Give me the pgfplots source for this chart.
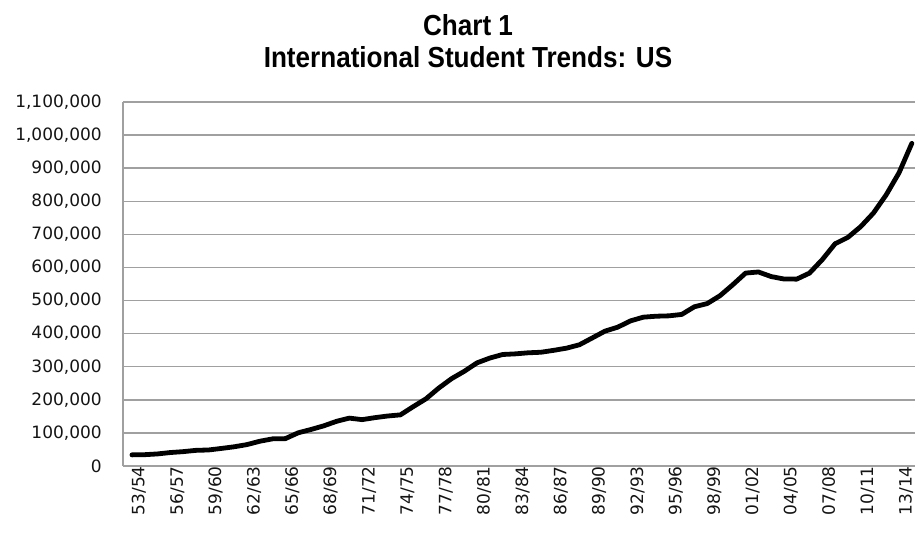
\documentclass[border=0pt]{standalone}
\usepackage{fontspec}
\setmainfont{DejaVu Sans}
\newfontfamily\titlefont{Liberation Sans}[FakeStretch=0.9]
\usepackage{pgfplots}
\pgfplotsset{compat=1.18}
\definecolor{gridgray}{HTML}{A0A0A0}
\definecolor{labelcol}{HTML}{141414}
\begin{document}
\begin{tikzpicture}
\path[use as bounding box] (0,0) rectangle (915pt,536pt);
\node[anchor=base, font={\titlefont\bfseries\fontsize{29pt}{34pt}\selectfont}] at (468pt,500pt) {Chart 1};
\node[anchor=base, font={\titlefont\bfseries\fontsize{29pt}{34pt}\selectfont}] at (468pt,468pt) {International Student Trends: US};
\begin{axis}[
  at={(123pt,70pt)}, anchor=south west,
  scale only axis, width=792pt, height=364pt,
  xmin=-0.7, xmax=61.25, ymin=0, ymax=1100000,
  axis lines=left,
  axis line style={-, gridgray, line width=1.5pt},
  ymajorgrids, major grid style={gridgray, line width=1.5pt},
  major tick length=0pt,
  ytick={0,100000,...,1100000},
  scaled y ticks=false,
  /pgf/number format/fixed,
  /pgf/number format/precision=0,
  /pgf/number format/1000 sep={,},
  /pgf/number format/assume math mode=true,
  xtick={0,3,...,60},
  xticklabels={53/54,56/57,59/60,62/63,65/66,68/69,71/72,74/75,77/78,80/81,83/84,86/87,89/90,92/93,95/96,98/99,01/02,04/05,07/08,10/11,13/14},
  ticklabel style={font=\fontsize{17pt}{20pt}\selectfont, text=labelcol, inner sep=0pt},
  yticklabel style={anchor=east, xshift=-21pt},
  xticklabel style={rotate=90, anchor=east, yshift=-7pt},
]
\addplot[black, line width=4.8pt, line join=round, line cap=round] coordinates {
(0,33675) (1,34232) (2,36494) (3,40666) (4,43391) (5,47245) (6,48486) (7,53107)
(8,58086) (9,64705) (10,74814) (11,82045) (12,82709) (13,100262) (14,110315) (15,121362)
(16,134959) (17,144708) (18,140126) (19,146097) (20,151066) (21,154580) (22,179344) (23,203068)
(24,235509) (25,263938) (26,286343) (27,311882) (28,326299) (29,336985) (30,338894) (31,342113)
(32,343777) (33,349609) (34,356187) (35,366354) (36,386851) (37,407529) (38,419585) (39,438618)
(40,449749) (41,452653) (42,453787) (43,457984) (44,481280) (45,490933) (46,514723) (47,547867)
(48,582996) (49,586323) (50,572509) (51,565039) (52,564766) (53,582984) (54,623805) (55,671616)
(56,690923) (57,723277) (58,764495) (59,819644) (60,886052) (61,974926)
};
\end{axis}
\end{tikzpicture}
\end{document}
